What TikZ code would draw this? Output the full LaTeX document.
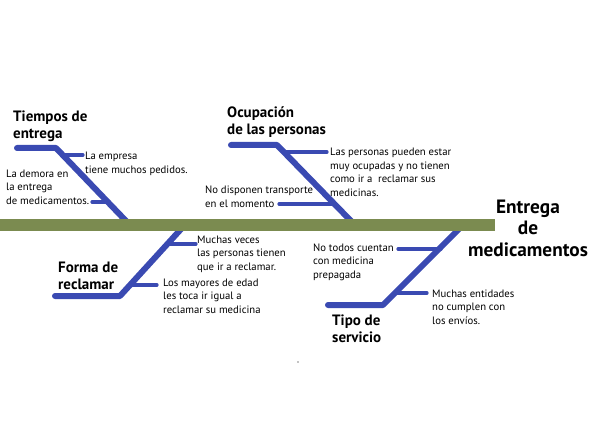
\documentclass[tikz,border=0pt]{standalone}
\usepackage{fontspec}
\setmainfont{PT Sans}
\begin{document}
\begin{tikzpicture}[x=1pt,y=-1pt,
  bone/.style={draw=boneblue,line width=6pt,line cap=round,line join=round},
  twig/.style={draw=boneblue,line width=3.2pt,line cap=round},
  note/.style={anchor=base west,inner sep=0pt,align=left,font=\fontsize{10.7}{13.5}\selectfont},
  head/.style={anchor=base west,inner sep=0pt,align=left,font=\fontsize{15}{17}\selectfont\bfseries},
  effect/.style={anchor=base,inner sep=0pt,align=center,font=\fontsize{19.3}{21.5}\selectfont\bfseries}]
\definecolor{boneblue}{RGB}{58,74,178}
\definecolor{spinegreen}{RGB}{123,139,80}
\useasboundingbox (0,0) rectangle (597,441);
% bone 1
\coordinate (t1) at (17,148); \coordinate (k1) at (56,148); \coordinate (s1) at (127,222);
\coordinate (a1) at (63,155); \coordinate (a1e) at (83,155);
\coordinate (c1) at (108,202); \coordinate (c1e) at (92,202);
% bone 2
\coordinate (t2) at (231,145); \coordinate (k2) at (277,145); \coordinate (s2) at (352,222);
\coordinate (a2) at (284,152); \coordinate (a2e) at (327,152);
\coordinate (c2) at (335,204); \coordinate (c2e) at (279,204);
% bone 3
\coordinate (s3) at (182,228); \coordinate (k3) at (120,296); \coordinate (t3) at (55,296);
\coordinate (a3) at (168,244); \coordinate (a3e) at (196,244);
\coordinate (c3) at (130,285); \coordinate (c3e) at (157,285);
% bone 4
\coordinate (s4) at (460,228); \coordinate (k4) at (383,305); \coordinate (t4) at (328,305);
\coordinate (a4) at (441,249); \coordinate (a4e) at (398,249);
\coordinate (c4) at (396,293); \coordinate (c4e) at (427,293);
\draw[bone] (t1) -- (k1) -- (s1);
\draw[bone] (t2) -- (k2) -- (s2);
\draw[bone] (s3) -- (k3) -- (t3);
\draw[bone] (s4) -- (k4) -- (t4);
\draw[twig] (a1) -- (a1e); \draw[twig] (c1) -- (c1e);
\draw[twig] (a2) -- (a2e); \draw[twig] (c2) -- (c2e);
\draw[twig] (a3) -- (a3e); \draw[twig] (c3) -- (c3e);
\draw[twig] (a4) -- (a4e); \draw[twig] (c4) -- (c4e);
\fill[spinegreen] (0,219) rectangle (495,231);
% texts (base = baseline of the last line)
\node[head] (h1) at (13,139) {Tiempos de\\entrega};
\node[note] (n1a) at (85,173) {La empresa\\tiene muchos pedidos.};
\node[note] (n1b) at (6,204) {La demora en\\la entrega\\de medicamentos.};
\node[head] (h2) at (227,135) {Ocupación\\de las personas};
\node[note] (n2a) at (330,196) {Las personas pueden estar\\muy ocupadas y no tienen\\como ir a\ \ reclamar sus\\medicinas.};
\node[note] (n2b) at (205,207) {No disponen transporte\\en el momento};
\node[head] (h3) at (58,289) {Forma de\\reclamar};
\node[note] (n3a) at (197,270) {Muchas veces\\las personas tienen\\que ir a reclamar.};
\node[note] (n3b) at (163,313) {Los mayores de edad\\les toca ir igual a\\reclamar su medicina};
\node[head] (h4) at (332,342) {Tipo de\\servicio};
\node[note] (n4a) at (313,278) {No todos cuentan\\con medicina\\prepagada};
\node[note] (n4b) at (432,324) {Muchas entidades\\no cumplen con\\los envíos.};
\node[effect] (eff) at (528,256) {Entrega\\de\\medicamentos};
\fill (298,362) circle (0.6);
\end{tikzpicture}
\end{document}
